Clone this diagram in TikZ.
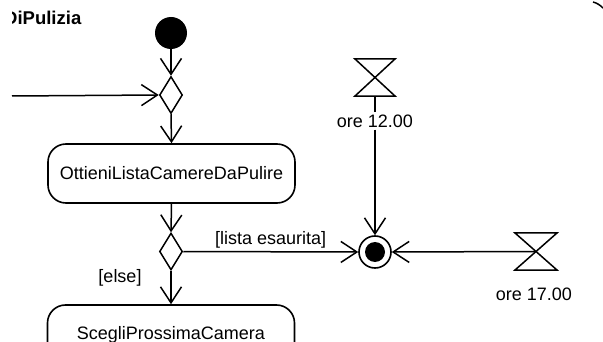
\documentclass[tikz,border=0pt]{standalone}
\usepackage{fontspec}
\setmainfont{Liberation Sans}
\usetikzlibrary{shapes.geometric,arrows.meta}
\begin{document}
\begin{tikzpicture}[x=1pt,y=-1pt,
  conn/.style={line width=1.5pt},
  arr/.style={conn,-{Straight Barb[length=16pt,width=21pt,line width=1.5pt]}},
  actbox/.style={draw,line width=1.6pt,rounded corners=18pt,minimum width=247pt,minimum height=59pt,inner sep=0pt,font=\fontsize{18}{20}\selectfont},
  dec/.style={draw,diamond,line width=1.5pt,minimum width=23pt,minimum height=37pt,inner sep=0pt},
  timer/.style={rectangle,minimum width=40pt,minimum height=37pt,inner sep=0pt},
  lbl/.style={font=\fontsize{18}{20}\selectfont,inner sep=2pt},
]
\useasboundingbox (0,0) rectangle (603,342);
\clip (0,0) rectangle (603,342);
\fill[white] (0,0) rectangle (603,342);
% title
\begin{scope}
\clip (12,0) rectangle (140,40);
\node[anchor=west,inner sep=0pt,font=\bfseries\fontsize{18.5}{20}\selectfont] (title) at (4,18) {DiPulizia};
\end{scope}
% frame corner
\draw[line width=1.5pt] (593,2) .. controls (597,3) and (600,5) .. (603,8);
% nodes
\node[circle,fill=black,minimum size=32pt,inner sep=0pt] (s) at (171,33) {};
\node[dec] (d1) at (171,95) {};
\node[actbox] (a1) at (171.5,173.5) {OttieniListaCamereDaPulire};
\node[dec] (d2) at (171,251.5) {};
\node[actbox] (a2) at (171,334.5) {ScegliProssimaCamera};
\node[circle,draw,line width=1.6pt,minimum size=32pt,inner sep=0pt] (m) at (375,252) {};
\node[circle,fill=black,minimum size=20pt,inner sep=0pt] (mi) at (375,252) {};
\node[timer] (t1) at (375,77.5) {};
\node[timer,minimum width=42pt] (t2) at (536,251.5) {};
\draw[line width=1.5pt,line join=miter] (t1.north west) -- (t1.north east) -- (t1.south west) -- (t1.south east) -- cycle;
\draw[line width=1.5pt,line join=miter] (t2.north west) -- (t2.north east) -- (t2.south west) -- (t2.south east) -- cycle;
\node[lbl] (l1) at (375,121) {ore 12.00};
\node[lbl] (l2) at (534,294) {ore 17.00};
\coordinate (in) at (12,96);
% connectors
\draw[arr] (s.south) -- (d1.north);
\draw[arr] (in) -- (d1.west);
\draw[arr] (d1.south) -- (a1.north);
\draw[arr] (a1.south) -- (d2.north);
\draw[arr] (d2.south) -- (a2.north);
\draw[arr] (d2.east) -- node[lbl,above,yshift=1pt] {[lista esaurita]} (m.west);
\node[lbl] (else) at (120,278) {[else]};
\draw[conn] (t1.south) -- (l1.north);
\draw[arr] (l1.south) -- (m.north);
\draw[arr] (t2.center) -- (m.east);
\end{tikzpicture}
\end{document}
